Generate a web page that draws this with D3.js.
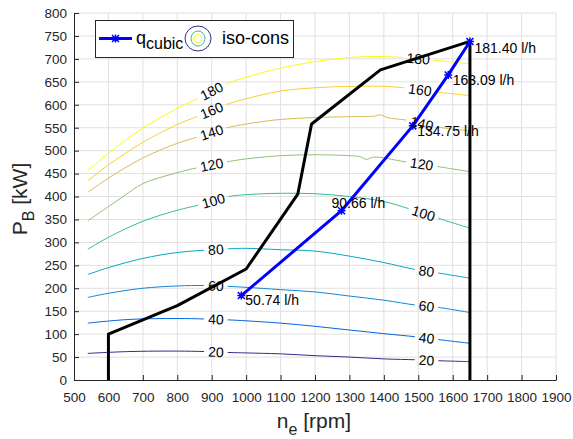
<!DOCTYPE html>
<html>
<head>
<meta charset="utf-8">
<script src="https://cdn.jsdelivr.net/npm/d3@7/dist/d3.min.js"></script>
<style>
  body { margin: 0; background: #fff; }
  svg { font-family: "Liberation Sans", Arial, Helvetica, sans-serif; }
</style>
</head>
<body>
<svg width="573" height="439"></svg>
<script>
// iso-consumption levels [l/h] and their parula colours
const isoLevels = [20, 40, 60, 80, 100, 120, 140, 160, 180];
const isoColors = ["#352a87", "#0363e1", "#1485d4", "#06a7c6", "#38b99e", "#92bf73", "#d9ba56", "#fcce2e", "#f9fb0e"];

// contour lines, [n_e rpm, P_B kW]
const iso20 = [[540, 58], [660, 62], [800, 63], [880, 62], [950, 60], [1000, 59], [1100, 57], [1200, 53], [1300, 50], [1400, 46], [1495, 44], [1560, 42], [1650, 40]];
const iso40 = [[540, 124], [660, 132], [800, 134], [880, 133], [950, 131], [1000, 129], [1100, 124], [1200, 117], [1300, 109], [1400, 101], [1495, 94], [1560, 88], [1650, 80]];
const iso60 = [[540, 180], [600, 189], [700, 200], [800, 205], [880, 206], [950, 204], [1000, 202], [1100, 197], [1200, 192], [1300, 183], [1400, 174], [1495, 163], [1560, 158], [1650, 147]];
const iso80 = [[540, 230], [600, 245], [700, 265], [800, 278], [880, 283], [950, 286], [1000, 287], [1100, 284], [1200, 281], [1300, 270], [1400, 256], [1490, 241], [1560, 233], [1650, 222]];
const iso100 = [[540, 285], [600, 311], [700, 346], [800, 370], [860, 381], [950, 400], [1000, 404], [1100, 407], [1200, 406], [1300, 400], [1400, 389], [1470, 374], [1560, 352], [1650, 331]];
const iso120 = [[540, 347], [600, 378], [645, 401], [700, 428], [800, 452], [860, 463], [940, 475], [1000, 482], [1100, 489], [1200, 491], [1300, 489], [1330, 487], [1350, 481], [1370, 486], [1460, 476], [1550, 466], [1650, 454]];
const iso140 = [[540, 409], [600, 440], [700, 484], [800, 516], [860, 530], [940, 549], [1000, 558], [1100, 568], [1200, 572], [1300, 574], [1370, 575], [1390, 578], [1410, 572], [1470, 566], [1550, 552], [1650, 543]];
const iso160 = [[540, 434], [600, 469], [700, 518], [800, 557], [860, 575], [940, 600], [1000, 613], [1100, 630], [1200, 637], [1300, 640], [1400, 640], [1470, 636], [1550, 628], [1650, 620]];
const iso180 = [[540, 456], [600, 494], [700, 549], [800, 592], [860, 614], [940, 645], [1000, 660], [1100, 680], [1200, 694], [1300, 703], [1400, 705], [1500, 700], [1560, 696], [1650, 689]];
const isoLines = [iso20, iso40, iso60, iso80, iso100, iso120, iso140, iso160, iso180];

// rpm where the inline labels sit
const isoLabelLeft = [912, 912, 912, 912, 905, 900, 900, 900, 900];
const isoLabelRight = [1524, 1524, 1524, 1524, 1515, 1510, 1510, 1505, 1500];

// full load limit
const limitRpm = [600, 600, 800, 1000, 1150, 1190, 1390, 1650, 1650];
const limitPower = [0, 100, 162, 242, 405, 558, 676, 738, 0];

// cubic propeller curve
const cubicRpm = [986, 1277, 1484, 1587, 1650];
const cubicPower = [184, 369, 554, 665, 738];
const cubicFlow = [50.74, 90.66, 134.75, 163.09, 181.40];
const flowLabelShift = [[4, 5], [-10, -8], [4.5, 5.5], [4.5, 5], [4.5, 6.5]];

const xTicks = [500, 600, 700, 800, 900, 1000, 1100, 1200, 1300, 1400, 1500, 1600, 1700, 1800, 1900];
const yTicks = [0, 50, 100, 150, 200, 250, 300, 350, 400, 450, 500, 550, 600, 650, 700, 750, 800];

const svg = d3.select("svg");
const axisColor = "#262626";

const x = d3.scaleLinear().domain([500, 1900]).range([74, 556]);
const y = d3.scaleLinear().domain([0, 800]).range([380, 13]);

// grid
svg.append("g")
  .selectAll("line")
  .data(xTicks.slice(1))
  .join("line")
  .attr("x1", d => x(d)).attr("x2", d => x(d))
  .attr("y1", y(0)).attr("y2", y(800))
  .attr("stroke", "#e0e0e0");

svg.append("g")
  .selectAll("line")
  .data(yTicks.slice(1))
  .join("line")
  .attr("x1", x(500)).attr("x2", x(1900))
  .attr("y1", d => y(d)).attr("y2", d => y(d))
  .attr("stroke", "#e0e0e0");

// axes, ticks inside
const xAxis = svg.append("g")
  .attr("transform", "translate(0," + y(0) + ")")
  .call(d3.axisBottom(x).tickValues(xTicks).tickFormat(d3.format("d"))
    .tickSizeInner(-5).tickSizeOuter(0).tickPadding(12));
const yAxis = svg.append("g")
  .attr("transform", "translate(" + x(500) + ",0)")
  .call(d3.axisLeft(y).tickValues(yTicks).tickFormat(d3.format("d"))
    .tickSizeInner(-5).tickSizeOuter(0).tickPadding(7));

[xAxis, yAxis].forEach(function(a) {
  a.selectAll("path, line").attr("stroke", axisColor);
  a.selectAll("text").attr("fill", axisColor).attr("font-size", "13.5px")
    .attr("font-family", "Liberation Sans, Arial, sans-serif");
});

// axis labels
const xLabel = svg.append("text")
  .attr("x", 314).attr("y", 428)
  .attr("text-anchor", "middle")
  .attr("font-size", "21px")
  .attr("fill", axisColor);
xLabel.append("tspan").text("n");
xLabel.append("tspan").attr("dy", 7).attr("font-size", "16px").text("e");
xLabel.append("tspan").attr("dy", -7).text(" [rpm]");

const yLabel = svg.append("text")
  .attr("transform", "translate(27,199) rotate(-90)")
  .attr("text-anchor", "middle")
  .attr("font-size", "21px")
  .attr("fill", axisColor);
yLabel.append("tspan").text("P");
yLabel.append("tspan").attr("dy", 7).attr("font-size", "16px").text("B");
yLabel.append("tspan").attr("dy", -7).text(" [kW]");

// contour lines with gaps for inline labels (mask)
function powerAt(line, rpm) {
  let i = d3.bisector(d => d[0]).right(line, rpm);
  i = Math.max(1, Math.min(i, line.length - 1));
  const a = line[i - 1], b = line[i];
  const t = (rpm - a[0]) / (b[0] - a[0]);
  return a[1] + t * (b[1] - a[1]);
}

const mask = svg.append("defs").append("mask")
  .attr("id", "gaps")
  .attr("maskUnits", "userSpaceOnUse")
  .attr("x", 0).attr("y", 0).attr("width", 573).attr("height", 439);
mask.append("rect").attr("width", 573).attr("height", 439).attr("fill", "white");

const lineGen = d3.line().x(d => x(d[0])).y(d => y(d[1]));
const smoothGen = d3.line().x(d => x(d[0])).y(d => y(d[1])).curve(d3.curveCatmullRom.alpha(0.5));

svg.append("g")
  .attr("mask", "url(#gaps)")
  .selectAll("path")
  .data(isoLines)
  .join("path")
  .attr("d", smoothGen)
  .attr("fill", "none")
  .attr("stroke", (d, i) => isoColors[i])
  .attr("stroke-width", 1);

// black full load line
svg.append("path")
  .datum(d3.zip(limitRpm, limitPower))
  .attr("d", lineGen)
  .attr("fill", "none")
  .attr("stroke", "#000")
  .attr("stroke-width", 3)
  .attr("stroke-linejoin", "round");

// blue cubic curve
const cubic = d3.zip(cubicRpm, cubicPower);
svg.append("path")
  .datum(cubic)
  .attr("d", lineGen)
  .attr("fill", "none")
  .attr("stroke", "#0000ff")
  .attr("stroke-width", 3)
  .attr("stroke-linejoin", "round");

const markerPath = "M-3.5,-3.5L3.5,3.5M-3.5,3.5L3.5,-3.5M0,-4L0,4M-4,0L4,0";
svg.append("g")
  .selectAll("path")
  .data(cubic)
  .join("path")
  .attr("transform", d => "translate(" + x(d[0]) + "," + y(d[1]) + ")")
  .attr("d", markerPath)
  .attr("stroke", "#0000ff")
  .attr("stroke-width", 1.5);

// contour labels
const labelG = svg.append("g");
isoLevels.forEach(function(level, i) {
  [isoLabelLeft[i], isoLabelRight[i]].forEach(function(rpm) {
    const line = isoLines[i];
    const px = x(rpm), py = y(powerAt(line, rpm));
    const ang = Math.atan2(y(powerAt(line, rpm + 20)) - y(powerAt(line, rpm - 20)),
      x(rpm + 20) - x(rpm - 20)) * 180 / Math.PI;
    const tr = "translate(" + px + "," + py + ") rotate(" + ang + ")";
    const t = labelG.append("text")
      .attr("transform", tr)
      .attr("text-anchor", "middle")
      .attr("dy", "0.35em")
      .attr("font-size", "14px")
      .attr("fill", "#000")
      .text(level);
    const w = t.node().getComputedTextLength();
    mask.append("rect")
      .attr("transform", tr)
      .attr("x", -w / 2 - 4).attr("y", -6)
      .attr("width", w + 8).attr("height", 12)
      .attr("fill", "black");
  });
});

// flow labels
svg.append("g")
  .selectAll("text")
  .data(cubic)
  .join("text")
  .attr("x", (d, i) => x(d[0]) + flowLabelShift[i][0])
  .attr("y", (d, i) => y(d[1]) + flowLabelShift[i][1])
  .attr("dy", "0.35em")
  .attr("font-size", "14px")
  .attr("fill", "#000")
  .text((d, i) => d3.format(".2f")(cubicFlow[i]) + " l/h");

// legend
const lg = svg.append("g");
lg.append("rect")
  .attr("x", 95.5).attr("y", 20.5).attr("width", 198).attr("height", 37)
  .attr("fill", "#fff").attr("stroke", axisColor).attr("stroke-width", 1);
lg.append("line")
  .attr("x1", 99).attr("x2", 132).attr("y1", 38.5).attr("y2", 38.5)
  .attr("stroke", "#0000ff").attr("stroke-width", 3);
lg.append("path")
  .attr("transform", "translate(115.5,38.5)")
  .attr("d", markerPath)
  .attr("stroke", "#0000ff").attr("stroke-width", 1.5);
const qText = lg.append("text")
  .attr("x", 136).attr("y", 44)
  .attr("font-size", "18px").attr("fill", "#000");
qText.append("tspan").text("q");
qText.append("tspan").attr("dy", 5).attr("font-size", "16px").text("cubic");

lg.selectAll("ellipse")
  .data([[13, 12.5, isoColors[0]], [7, 7.5, isoColors[4]], [3.5, 4.3, isoColors[8]]])
  .join("ellipse")
  .attr("cx", 198).attr("cy", 38.5)
  .attr("rx", d => d[0]).attr("ry", d => d[1])
  .attr("fill", "none").attr("stroke", d => d[2]).attr("stroke-width", 1);

lg.append("text")
  .attr("x", 222).attr("y", 44)
  .attr("font-size", "18px").attr("fill", "#000")
  .text("iso-cons");
</script>
</body>
</html>
